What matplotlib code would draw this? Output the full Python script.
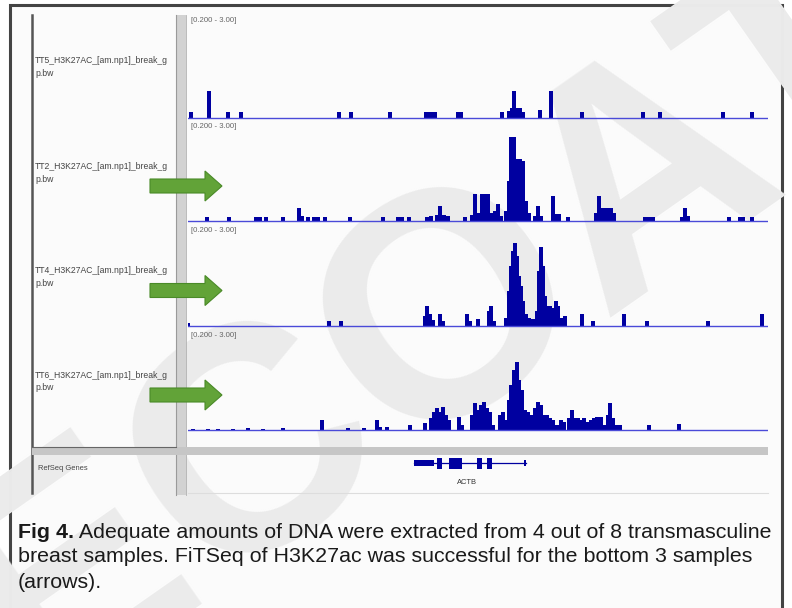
import matplotlib
matplotlib.use("Agg")
import matplotlib.pyplot as plt
from matplotlib.patches import Rectangle, Polygon

W, H = 792, 608

# ---------------- data ----------------
track_names = [
    "TT5_H3K27AC_[am.np1]_break_g\np.bw",
    "TT2_H3K27AC_[am.np1]_break_g\np.bw",
    "TT4_H3K27AC_[am.np1]_break_g\np.bw",
    "TT6_H3K27AC_[am.np1]_break_g\np.bw",
]
data_range = "[0.200 - 3.00]"

t1_pos = [3, 21, 40, 53, 151, 163, 202, 238, 241, 244, 247, 270, 273, 314, 321, 324, 326,
          329, 332, 335, 352, 363, 394, 455, 472, 535, 564]
t1_val = [6, 27, 6, 6, 6, 6, 6, 6, 6, 6, 6, 6, 6, 6, 7, 10, 27,
          10, 10, 6, 8, 27, 6, 6, 6, 6, 6]

t2_pos = [19, 41, 68, 72, 78, 95, 111, 114, 120, 126, 130, 137, 162, 195, 210, 214, 221,
          239, 243, 249, 252, 256, 260, 277, 284, 287, 291, 294, 297, 300, 303, 307, 310,
          313, 318, 321, 323, 326, 329, 332, 335, 338, 341, 347, 350, 353, 365, 368, 371,
          380, 408, 411, 414, 417, 420, 423, 426, 457, 461, 465, 494, 497, 500, 541, 552,
          555, 564]
t2_val = [4, 4, 4, 4, 4, 4, 13, 5, 4, 4, 4, 4, 4, 4, 4, 4, 4,
          4, 5, 6, 15, 6, 5, 4, 6, 27, 8, 27, 27, 27, 8, 10, 17,
          5, 10, 40, 84, 84, 62, 62, 60, 20, 8, 5, 15, 5, 25, 7, 7,
          4, 8, 25, 13, 13, 13, 13, 8, 4, 4, 4, 4, 13, 5, 4, 4,
          4, 4]

t3_pos = [0, 141, 153, 237, 239, 242, 245, 252, 255, 279, 282, 290, 301, 303, 306, 318,
          321, 323, 325, 327, 329, 331, 333, 335, 338, 341, 344, 347, 349, 351, 353, 355,
          357, 359, 362, 365, 368, 370, 373, 377, 394, 405, 436, 459, 520, 574]
t3_val = [3, 5, 5, 10, 20, 12, 6, 12, 5, 12, 5, 7, 15, 20, 5, 8,
          35, 60, 75, 83, 70, 50, 40, 25, 12, 8, 7, 7, 15, 55, 79, 60,
          30, 20, 20, 18, 25, 20, 8, 10, 12, 5, 12, 5, 5, 12]

t4_pos = [5, 20, 30, 45, 60, 75, 95, 134, 160, 176, 189, 192, 199, 222, 237, 243, 246, 249,
          252, 255, 258, 261, 271, 274, 284, 287, 290, 293, 296, 299, 302, 305, 312, 315,
          318, 321, 323, 326, 329, 331, 334, 337, 340, 343, 347, 350, 353, 356, 359, 362,
          365, 369, 373, 376, 381, 384, 387, 390, 393, 396, 399, 403, 406, 409, 413, 416,
          420, 422, 425, 429, 432, 461, 491]
t4_val = [1, 1, 1, 1.5, 2, 1, 2, 10, 2, 2, 10, 3, 3, 5, 7, 12, 18, 22,
          18, 23, 15, 10, 13, 5, 15, 27, 20, 25, 28, 22, 18, 5, 15, 18,
          10, 30, 45, 60, 68, 50, 40, 20, 18, 15, 22, 28, 25, 15, 15, 12,
          10, 5, 10, 8, 12, 20, 12, 12, 10, 12, 8, 10, 12, 13, 13, 5,
          15, 27, 12, 5, 5, 5, 6]

tracks = [(t1_pos, t1_val), (t2_pos, t2_val), (t3_pos, t3_val), (t4_pos, t4_val)]

gene_name = "ACTB"
gene_start, gene_end = 226, 338
gene_exons = [(226, 246, "utr"), (249, 254, "cds"), (261, 274, "cds"),
              (289, 294, "cds"), (299, 304, "cds"), (336, 338, "utr")]
refseq_label = "RefSeq Genes"

caption_bold = "Fig 4."
caption_lines = [
    " Adequate amounts of DNA were extracted from 4 out of 8 transmasculine",
    "breast samples. FiTSeq of H3K27ac was successful for the bottom 3 samples",
    "(arrows).",
]
arrow_tracks = [1, 2, 3]
watermark = "ECOAT"

# ---------------- layout (pixels) ----------------
tops = [15, 121, 225, 330]
bases = [118, 221, 326, 430]
data_x0, data_x1 = 188, 768
name_x0 = 32
xmax = 580

plt.rcParams["font.family"] = ["Liberation Sans", "DejaVu Sans"]
fig = plt.figure(figsize=(W / 100, H / 100), dpi=100)
fig.patch.set_facecolor("white")


def fbox(x0, y0, x1, y1):
    return [x0 / W, 1 - y1 / H, (x1 - x0) / W, (y1 - y0) / H]


# background overlay
bg = fig.add_axes([0, 0, 1, 1], zorder=0)
bg.set_xlim(0, W)
bg.set_ylim(H, 0)
bg.axis("off")

# panel background
bg.add_patch(Rectangle((10, 5), 772, 620, facecolor="#fbfbfb", edgecolor="#444444",
                       lw=2.2, zorder=1))
# watermark
bg.text(435, 325, watermark, fontsize=230, fontweight="bold", color="#ebebeb",
        rotation=35, ha="center", va="center", zorder=1.5, clip_on=True)

# left vertical line and name panel
bg.plot([name_x0, name_x0], [15, 493], color="#555555", lw=1.8, zorder=2)
bg.add_patch(Rectangle((176, 15), 10, 480, facecolor="#d2d2d2", edgecolor="none", zorder=2))
bg.plot([176, 176], [15, 495], color="#9a9a9a", lw=0.8, zorder=2)
bg.plot([186, 186], [15, 495], color="#b0b0b0", lw=0.6, zorder=2)
# horizontal separator above gene track
bg.add_patch(Rectangle((name_x0, 447), data_x1 - name_x0, 8, facecolor="#c6c6c6",
                       edgecolor="none", zorder=2))
bg.plot([name_x0, 176], [447, 447], color="#666666", lw=0.8, zorder=2)
bg.plot([data_x0, data_x1], [493, 493], color="#dddddd", lw=0.8, zorder=2)

for i, name in enumerate(track_names):
    ylab = tops[i] + 41
    bg.text(name_x0 + 3, ylab, name, fontsize=6.2, color="#444444", va="top",
            ha="left", linespacing=1.5, zorder=3)
bg.text(name_x0 + 6, 469, refseq_label, fontsize=5.4, color="#444444", va="center", zorder=3)

# ---------------- tracks ----------------
for i, (pos, val) in enumerate(tracks):
    ax = fig.add_axes(fbox(data_x0, tops[i], data_x1, bases[i] + 2), zorder=1)
    ax.set_facecolor("none")
    ax.set_xlim(0, xmax)
    ax.set_ylim(-2, bases[i] - tops[i])
    ax.bar(pos, val, width=3.4, color="#0000a0", linewidth=0, align="center")
    ax.axhline(0, color="#4a4ad8", lw=1.0)
    ax.text(3, bases[i] - tops[i] - 2, data_range, fontsize=5.6, color="#666666",
            va="top", ha="left")
    ax.axis("off")

# gene track
gx = fig.add_axes(fbox(data_x0, 455, data_x1, 492), zorder=1)
gx.set_facecolor("none")
gx.set_xlim(0, xmax)
gx.set_ylim(37, 0)
gx.axis("off")
gy = 8
gx.plot([gene_start, gene_end], [gy, gy], color="#0000a0", lw=0.9)
for s, e, kind in gene_exons:
    hh = 3.0 if kind == "utr" else 5.5
    gx.add_patch(Rectangle((s, gy - hh), e - s, 2 * hh, facecolor="#0000a0", edgecolor="none"))
gx.text((gene_start + gene_end) / 2 - 3, 27, gene_name, fontsize=5.4, color="#333333",
        ha="center", va="center")

# ---------------- arrows ----------------
ov = fig.add_axes([0, 0, 1, 1], zorder=3)
ov.set_xlim(0, W)
ov.set_ylim(H, 0)
ov.axis("off")
for ti in arrow_tracks:
    yc = (tops[ti] + bases[ti]) / 2 + 15
    x0, xb, xh = 150, 205, 222
    pts = [(x0, yc - 7), (xb, yc - 7), (xb, yc - 15), (xh, yc), (xb, yc + 15),
           (xb, yc + 7), (x0, yc + 7)]
    ov.add_patch(Polygon(pts, closed=True, facecolor="#62a338", edgecolor="#4a8a28", lw=0.8))

# ---------------- caption ----------------
cap_y = [532, 557, 582]
fs = 14
target_w = 775 - 18
t_b = fig.text(18 / W, 1 - cap_y[0] / H, caption_bold, fontsize=fs, fontweight="bold",
               color="#1a1a1a", va="center", ha="left")
t_r = fig.text(0, 1 - cap_y[0] / H, caption_lines[0], fontsize=fs, color="#1a1a1a",
               va="center", ha="left")
fig.canvas.draw()
r = fig.canvas.get_renderer()
w_now = t_b.get_window_extent(r).width + t_r.get_window_extent(r).width
fs = fs * target_w / w_now
t_b.set_fontsize(fs)
t_r.set_fontsize(fs)
fig.canvas.draw()
bb = t_b.get_window_extent(r)
t_r.set_x(bb.x1 / W)
for k in (1, 2):
    fig.text(18 / W, 1 - cap_y[k] / H, caption_lines[k], fontsize=fs, color="#1a1a1a",
             va="center", ha="left")

fig.savefig("out.png", dpi=100, facecolor=fig.get_facecolor())
